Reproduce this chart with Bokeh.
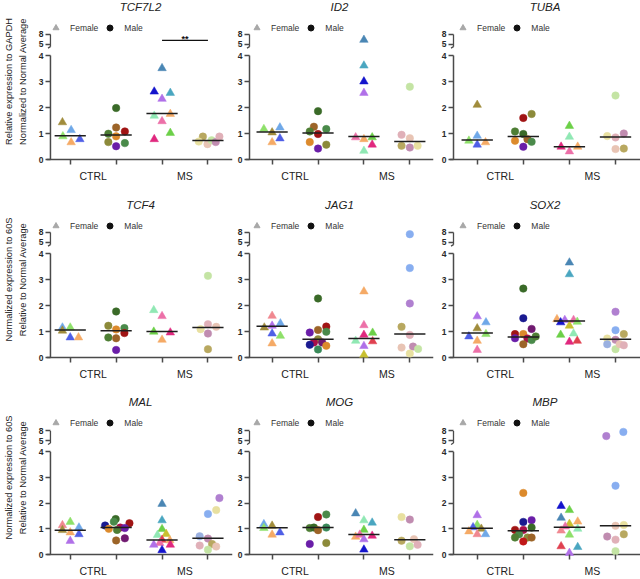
import numpy as np
from bokeh.plotting import figure
from bokeh.layouts import column, row
from bokeh.models import ColumnDataSource, FixedTicker, Legend, LegendItem, Range1d, Label
from bokeh.embed import file_html
from bokeh.resources import INLINE
from bokeh.core.properties import value

FONT = "Liberation Sans"

# ---------------- data ----------------
group_pos = [1, 2, 3, 4]           # CTRL female, CTRL male, MS female, MS male
group_sex = ["F", "M", "F", "M"]
group_labels = {1.5: "CTRL", 3.5: "MS"}
legend_labels = ["Female", "Male"]
ylabel_row1 = "Relative expression to GAPDH\nNormalized to Normal Average"
ylabel_rows23 = "Normalized expression to 60S\nRelative to Normal Average"
y_ticks = [0, 1, 2, 3, 4, 5, 8]

genes = ["TCF7L2", "ID2", "TUBA", "TCF4", "JAG1", "SOX2", "MAL", "MOG", "MBP"]

TCF7L2_vals = [[1.43, 1.13, 0.89, 0.78, 0.66],
               [1.98, 1.23, 0.99, 1.08, 0.89, 0.67, 0.51, 0.63],
               [3.51, 2.61, 2.56, 2.33, 1.68, 1.75, 1.47, 1.02, 0.78],
               [0.88, 0.69, 0.59, 0.74, 0.67, 0.88]]
TCF7L2_dx = [[-0.17, 0.02, -0.16, 0.21, 0.02],
             [0, 0, -0.17, 0.19, 0, -0.17, 0, 0.19],
             [0, -0.17, 0.18, 0, -0.17, 0.18, 0, 0.18, -0.17],
             [-0.11, -0.2, -0.01, 0.08, 0.17, 0.25]]
TCF7L2_col = [["olv", "lbl", "lgr", "blu", "pch"],
              ["dgr", "brn", "ogr", "drd", "org", "olm", "pur", "gr2"],
              ["stb", "dbl", "tea", "vio", "mnt", "pch", "pnk", "grn", "mag"],
              ["kha", "pyl", "pbg", "pgr", "mau", "lpk"]]
TCF7L2_med = [0.91, 0.94, 1.77, 0.73]

ID2_vals = [[1.17, 1.04, 1.23, 0.66, 0.81],
            [1.86, 1.26, 1.08, 1.17, 0.98, 0.67, 0.57, 0.42],
            [6.3, 3.61, 3.0, 2.56, 0.85, 0.78, 0.85, 0.57, 0.33],
            [2.8, 0.95, 0.82, 0.53, 0.46, 0.53]]
ID2_dx = [[-0.18, 0, 0.17, 0, 0.17],
          [0, -0.09, -0.18, 0.18, 0, -0.18, 0.18, 0],
          [0, 0, 0, 0, -0.18, 0, 0.18, 0.18, 0],
          [0, -0.18, 0, -0.18, 0, 0.17]]
ID2_col = [["lgr", "olv", "lbl", "pch", "blu"],
           ["dgr", "brn", "ogr", "gr2", "drd", "org", "olm", "pur"],
           ["stb", "tea", "dbl", "vio", "pnk", "pch", "grn", "mag", "mnt"],
           ["pgr", "lpk", "pbg", "kha", "mau", "pyl"]]
ID2_med = [1.06, 1.02, 0.88, 0.69]

TUBA_vals = [[2.1, 0.72, 0.91, 0.57, 0.66],
             [1.75, 1.6, 1.08, 0.98, 0.78, 0.72, 0.68, 0.49],
             [1.29, 0.87, 0.49, 0.49, 0.31],
             [2.46, 1.0, 0.9, 0.85, 0.4, 0.42]]
TUBA_dx = [[0, -0.18, 0, 0, 0.18],
           [0.18, 0, -0.18, 0, 0.09, -0.18, 0.18, 0],
           [0, 0, -0.18, 0.18, 0],
           [0, 0.18, -0.18, 0, 0, 0.18]]
TUBA_col = [["olv", "lgr", "lbl", "blu", "pch"],
            ["olm", "drd", "ogr", "dgr", "brn", "org", "gr2", "pur"],
            ["grn", "mnt", "mag", "pch", "pnk"],
            ["pgr", "mau", "pyl", "lpk", "pbg", "kha"]]
TUBA_med = [0.75, 0.88, 0.49, 0.87]

TCF4_vals = [[1.15, 1.15, 1.03, 0.77, 0.77],
             [1.77, 1.22, 1.13, 1.08, 0.94, 0.77, 0.74, 0.29],
             [1.82, 1.59, 0.99, 0.96, 0.68],
             [3.14, 1.28, 1.09, 1.18, 0.92, 0.32]]
TCF4_dx = [[-0.17, 0, -0.17, 0, 0.18],
           [0, -0.17, 0.18, 0, 0.18, -0.17, 0, 0],
           [-0.18, 0, -0.18, 0.18, 0],
           [0, 0, -0.16, 0.18, 0, 0]]
TCF4_col = [["lbl", "lgr", "olv", "blu", "pch"],
            ["dgr", "olm", "gr2", "org", "drd", "ogr", "brn", "pur"],
            ["mnt", "pnk", "grn", "mag", "pch"],
            ["pgr", "lpk", "pyl", "pbg", "mau", "kha"]]
TCF4_med = [1.06, 1.03, 1.0, 1.15]

JAG1_vals = [[1.6, 1.15, 1.22, 1.31, 0.92, 0.83, 0.54],
             [2.27, 1.19, 1.06, 0.96, 0.99, 0.7, 0.58, 0.58, 0.45, 0.49, 0.31],
             [2.54, 1.24, 0.87, 0.95, 0.64, 0.62, 0.44, 0.1],
             [7.44, 3.44, 2.08, 1.18, 0.87, 0.38, 0.42, 0.33, 0.15]]
JAG1_dx = [[0, -0.17, 0, 0.18, 0, 0.18, 0],
           [0, 0.18, 0, -0.18, 0.18, 0, 0.09, -0.09, 0.18, -0.18, 0],
           [0, 0, 0, 0.19, -0.18, 0.19, 0, 0],
           [0, 0, 0, -0.18, 0, -0.18, 0.07, 0.18, 0]]
JAG1_col = [["slm", "olv", "vio", "lbl", "blu", "lgr", "pch"],
            ["dgr", "drd", "brn", "pur", "gr2", "olm", "dpu", "crm", "org", "nav", "sgr"],
            ["pch", "pnk", "mag", "grn", "mnt", "red", "vio", "yel"],
            ["lbm", "lbm", "lav", "kha", "lpk", "pbg", "mau", "pgr", "pyl"]]
JAG1_med = [1.2, 0.7, 0.73, 0.9]

SOX2_vals = [[1.58, 1.12, 1.35, 0.81, 0.9, 0.64, 0.29],
             [2.65, 1.51, 1.1, 0.9, 0.9, 0.74, 0.73, 0.67, 0.81, 0.51],
             [3.65, 3.2, 1.47, 1.44, 1.35, 1.44, 1.37, 1.22, 0.87, 0.92, 0.6, 0.64],
             [1.76, 1.05, 0.9, 0.73, 0.68, 0.51, 0.32, 0.51, 0.47]]
SOX2_dx = [[0, 0, 0.19, -0.18, 0.19, 0, 0],
           [0, 0, 0.18, -0.18, 0, -0.18, 0.09, 0.18, 0.27, 0],
           [0, 0, -0.27, -0.1, -0.19, 0.09, 0.17, 0, -0.19, 0.09, 0, 0.17],
           [0, 0, 0.18, -0.18, 0, -0.18, 0, 0.09, 0.18]]
SOX2_col = [["vio", "olv", "lbl", "blu", "lgr", "pch", "pnk"],
            ["dgr", "nav", "dpu", "drd", "org", "pur", "crm", "gr2", "ogr", "brn"],
            ["stb", "tea", "pch", "vio", "dbl", "pnk", "lgr", "yel", "grn", "mnt", "mag", "red"],
            ["lav", "lbm", "kha", "pyl", "mau", "per", "pgr", "pbg", "lpk"]]
SOX2_med = [0.94, 0.79, 1.4, 0.7]

MAL_vals = [[1.27, 1.14, 1.05, 0.95, 0.86, 0.79, 0.53],
            [1.38, 1.28, 1.13, 1.0, 1.05, 0.96, 1.22, 1.03, 0.55, 0.63],
            [1.97, 1.33, 0.99, 0.8, 0.76, 0.57, 0.55, 0.45, 0.38, 0.38, 0.17],
            [2.2, 1.73, 1.58, 0.71, 0.62, 0.41, 0.35, 0.31, 0.19]]
MAL_dx = [[0, -0.17, 0.19, -0.17, 0, 0.19, 0],
          [-0.01, -0.05, -0.24, -0.16, 0.09, 0.02, 0.29, 0.19, 0, 0.19],
          [0, 0, 0, 0.09, -0.1, 0, 0.17, -0.05, -0.18, 0.18, 0],
          [0.25, 0.18, 0, -0.18, 0, 0.09, -0.18, 0.18, 0]]
MAL_col = [["lgr", "slm", "lbl", "olv", "pch", "blu", "vio"],
           ["dgr", "gr2", "nav", "org", "crm", "ogr", "drd", "pur", "brn", "dpu"],
           ["stb", "tea", "grn", "yel", "mnt", "red", "pch", "pnk", "vio", "mag", "dbl"],
           ["lav", "pyl", "lbm", "per", "mau", "kha", "lpk", "pbg", "pgr"]]
MAL_med = [0.95, 1.05, 0.57, 0.63]

MOG_vals = [[1.18, 1.03, 1.12, 0.77, 0.86],
            [1.46, 1.56, 1.03, 1.05, 0.95, 1.05, 0.41, 0.45],
            [1.6, 1.33, 1.24, 0.96, 0.69, 0.77, 0.73, 0.59, 0.19],
            [1.46, 1.36, 0.54, 0.6, 0.32, 0.38]]
MOG_dx = [[-0.18, -0.18, 0, 0, 0.17],
          [0, 0.18, -0.18, -0.09, 0, 0.18, -0.18, 0.18],
          [-0.18, 0, 0.18, 0, -0.18, -0.09, 0.18, 0, 0],
          [-0.18, 0, -0.18, 0.09, 0, 0.17]]
MOG_col = [["lbl", "lgr", "olv", "pch", "blu"],
           ["drd", "gr2", "ogr", "dgr", "brn", "sgr", "pur", "olm"],
           ["stb", "mnt", "tea", "grn", "pch", "pnk", "mag", "vio", "dbl"],
           ["pyl", "mau", "kha", "pbg", "pgr", "lpk"]]
MOG_med = [1.04, 1.05, 0.78, 0.58]

MBP_vals = [[1.53, 1.15, 1.06, 1.0, 0.9, 0.79, 0.79],
            [2.4, 1.27, 1.34, 1.05, 0.96, 0.96, 0.79, 0.66, 0.66, 0.66, 0.51],
            [1.89, 1.73, 1.43, 1.28, 1.19, 1.09, 1.0, 0.93, 0.77, 0.32, 0.29, 0.06],
            [6.4, 7.7, 2.68, 1.12, 1.15, 0.7, 0.58, 0.79, 0.13]]
MBP_dx = [[0, 0, -0.09, 0.09, -0.18, 0, 0.18],
          [0, 0, 0.18, 0.18, -0.18, 0, -0.09, -0.18, 0.09, 0.18, 0],
          [-0.18, 0, -0.18, 0.18, 0, -0.09, 0.18, -0.18, 0, -0.18, 0.18, 0],
          [-0.2, 0.17, 0, 0, 0.18, -0.18, 0, 0.18, 0]]
MBP_col = [["vio", "lgr", "blu", "olv", "pch", "slm", "lbl"],
           ["org", "nav", "pur", "dgr", "drd", "crm", "gr2", "ogr", "olm", "brn", "rd2"],
           ["dbl", "grn", "stb", "pch", "yel", "pnk", "mnt", "slm", "lgr", "red", "tea", "vio"],
           ["lav", "lbm", "lbm", "pbg", "pyl", "mau", "lpk", "kha", "pgr"]]
MBP_med = [1.02, 0.93, 1.06, 1.12]

# significance: (gene, group a, group b, level on value scale, label)
sig_marks = [("TCF7L2", 3, 4, 6.15, "**")]

DATA = {
    "TCF7L2": (TCF7L2_vals, TCF7L2_dx, TCF7L2_col, TCF7L2_med),
    "ID2": (ID2_vals, ID2_dx, ID2_col, ID2_med),
    "TUBA": (TUBA_vals, TUBA_dx, TUBA_col, TUBA_med),
    "TCF4": (TCF4_vals, TCF4_dx, TCF4_col, TCF4_med),
    "JAG1": (JAG1_vals, JAG1_dx, JAG1_col, JAG1_med),
    "SOX2": (SOX2_vals, SOX2_dx, SOX2_col, SOX2_med),
    "MAL": (MAL_vals, MAL_dx, MAL_col, MAL_med),
    "MOG": (MOG_vals, MOG_dx, MOG_col, MOG_med),
    "MBP": (MBP_vals, MBP_dx, MBP_col, MBP_med),
}

# ---------------- styles ----------------
PAL = {
    "olv": "#a08c3c", "lbl": "#6fa8e8", "lgr": "#8ee06a", "blu": "#4f5fe6", "pch": "#f5aa66",
    "vio": "#b070e8", "pnk": "#ec70a8", "slm": "#f08890", "stb": "#4a86b4", "dbl": "#1414cc",
    "tea": "#4aa6c0", "mnt": "#90e8b4", "grn": "#6cd048", "mag": "#e0287e", "red": "#e04050",
    "yel": "#c8c030",
    "dgr": "#3a6a28", "brn": "#9c6428", "ogr": "#4e7e34", "drd": "#a01414", "org": "#dc8a2c",
    "olm": "#8c8a3a", "pur": "#6a1ea8", "gr2": "#4a8a4a", "nav": "#1a1a90", "dpu": "#701a70",
    "crm": "#a8104a", "sgr": "#3a8a5a", "rd2": "#c01818",
    "kha": "#b8a860", "pyl": "#e8e0a0", "pbg": "#e8c4b4", "pgr": "#c4e4a4", "mau": "#c08cb0",
    "lpk": "#e0b0b8", "lbm": "#88aef0", "lav": "#b080d0", "per": "#9ab0e0",
}
AX = "#4a4a4a"
LINE = "#1e1e1e"

Y5 = 4.4375          # plotted position of value 5 (axis break)
BRK = 0.125          # compression above the break
UNIT = 26.0          # px per unit (lower segment)


def ty(v):
    return v if v <= 4 else Y5 + (v - 5) * BRK


Y_START = -3.0 / UNIT
FRAME_H = 162
Y_END = Y_START + FRAME_H / UNIT
# per column: width, border left, border right, x start, x end
COLS = [(233, 44, 1, 0.483, 4.535), (204, 12, 4, 0.42, 4.516), (203, 12, 0, 0.399, 4.542)]
ROWS = [(198, 36), (199, 37), (182, 20)]
LEG_X = [2, 4, 6]
TITLE_Y = 156        # px above frame bottom
LEG_Y = 127          # px above frame bottom


def make_panel(i, gene):
    r, c = divmod(i, 3)
    W, BL, BR, X0, X1 = COLS[c]
    H, BB = ROWS[r]
    frame_w = W - BL - BR
    s = frame_w / (X1 - X0)
    p = figure(width=W, height=H, x_range=Range1d(X0, X1), y_range=Range1d(Y_START, Y_END),
               output_backend="svg", toolbar_location=None,
               min_border_left=BL, min_border_right=BR, min_border_top=0, min_border_bottom=BB)
    p.outline_line_color = None
    p.xgrid.visible = False
    p.ygrid.visible = False
    p.background_fill_color = "white"
    p.border_fill_color = "white"

    p.add_layout(Label(x=frame_w / 2, y=TITLE_Y, x_units="screen", y_units="screen", text=gene,
                       text_align="center", text_baseline="middle", text_font=FONT,
                       text_font_style="italic", text_font_size="11.5px", text_color="#222222"))

    xa = p.xaxis[0]
    xa.ticker = FixedTicker(ticks=list(group_labels.keys()), minor_ticks=group_pos)
    xa.major_label_overrides = dict(group_labels)
    xa.axis_line_color = None
    xa.major_tick_line_color = None
    xa.major_tick_in = 0
    xa.major_tick_out = 0
    xa.minor_tick_in = 3
    xa.minor_tick_out = 2
    xa.minor_tick_line_color = AX
    xa.minor_tick_line_width = 1.5
    xa.major_label_standoff = 5
    xa.major_label_text_font = FONT
    xa.major_label_text_font_size = "10.5px"
    xa.major_label_text_color = "#222222"

    ya = p.yaxis[0]
    tick_pos = [ty(t) for t in y_ticks]
    ya.ticker = FixedTicker(ticks=tick_pos, minor_ticks=[])
    ya.major_label_overrides = {tp: str(t) for tp, t in zip(tick_pos, y_ticks)}
    ya.axis_line_color = None
    ya.major_tick_in = 4
    ya.major_tick_out = 1
    ya.major_tick_line_color = AX
    ya.major_tick_line_width = 1.5
    ya.minor_tick_line_color = None
    ya.major_label_standoff = 2
    ya.major_label_text_font = FONT
    ya.major_label_text_font_style = "bold"
    ya.major_label_text_font_size = "8.5px"
    ya.major_label_text_color = "#2a2a2a"
    if c == 0:
        ya.axis_label = ylabel_row1 if r == 0 else ylabel_rows23
        ya.axis_label_text_font = FONT
        ya.axis_label_text_font_style = "normal"
        ya.axis_label_text_font_size = "9.3px"
        ya.axis_label_text_color = "#222222"
        ya.axis_label_text_line_height = 1.4
        ya.axis_label_standoff = 8

    # axis lines (broken y axis)
    yx = X0 + 4.0 / s
    p.segment(x0=[X0], x1=[X1], y0=[0], y1=[0], line_color=AX, line_width=1.5)
    p.segment(x0=[yx], x1=[yx], y0=[0], y1=[4], line_color=AX, line_width=1.5)
    p.segment(x0=[yx, yx], x1=[yx, yx - 2.5 / s], y0=[ty(8), Y5 - 2.5 / UNIT],
              y1=[Y5 - 2.5 / UNIT, Y5 - 4.0 / UNIT], line_color=AX, line_width=1.3)

    vals, dxs, cols, meds = DATA[gene]
    for g, sex, v, dx, cl in zip(group_pos, group_sex, vals, dxs, cols):
        src = ColumnDataSource(dict(x=[g + d for d in dx], y=[ty(a) for a in v],
                                    c=[PAL[k] for k in cl]))
        if sex == "F":
            p.scatter("x", "y", source=src, marker="triangle", size=8.5,
                      fill_color="c", line_color="c", line_width=0.5)
        else:
            p.scatter("x", "y", source=src, marker="circle", size=7.5,
                      fill_color="c", line_color="c", line_width=0.5)

    msrc = ColumnDataSource(dict(x0=[g - 0.34 for g in group_pos], x1=[g + 0.34 for g in group_pos],
                                 y=[ty(m) for m in meds]))
    p.segment(x0="x0", x1="x1", y0="y", y1="y", source=msrc, line_color=LINE, line_width=1.5)

    for sg, a, b, lvl, lab in sig_marks:
        if sg == gene:
            p.segment(x0=[a], x1=[b], y0=[ty(lvl)], y1=[ty(lvl)], line_color="#111111", line_width=1.3)
            p.text(x=[(a + b) / 2], y=[ty(lvl)], text=[lab], text_align="center",
                   text_baseline="alphabetic", y_offset=-1, text_font=value(FONT),
                   text_font_style="bold", text_font_size="9px", text_color="#111111")

    # legend-only renderers (NaN position: not drawn in the plot area)
    nan = np.array([np.nan])
    rf = p.scatter(x=nan, y=nan, marker="triangle", size=6, fill_color="#a8a8a8", line_color="#a8a8a8")
    rm = p.scatter(x=nan, y=nan, marker="circle", size=6, fill_color="#111111", line_color="#111111")
    leg = Legend(items=[LegendItem(label=legend_labels[0], renderers=[rf]),
                        LegendItem(label=legend_labels[1], renderers=[rm])],
                 orientation="horizontal", location=(LEG_X[c], LEG_Y),
                 glyph_width=15, glyph_height=15, label_height=15, label_standoff=7, spacing=4,
                 padding=0, margin=0, border_line_color=None, background_fill_alpha=0,
                 label_text_font=FONT, label_text_font_size="8.5px", label_text_color="#333333")
    p.add_layout(leg)
    return p


panels = [make_panel(i, g) for i, g in enumerate(genes)]
layout = column(row(*panels[0:3]), row(*panels[3:6]), row(*panels[6:9]))

open("out.html", "w").write(file_html(layout, INLINE))
